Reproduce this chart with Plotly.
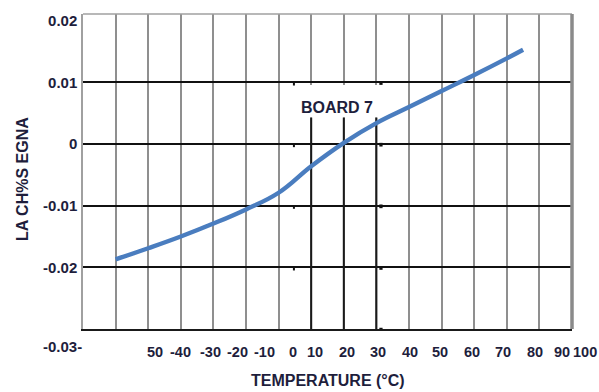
import plotly.graph_objects as go

# Angle change vs. temperature for board 7
temperature = [-50, -40, -30, -20, -10, 0, 10, 20, 30, 40, 50, 60, 70, 75]
angle_change = [-0.0187, -0.0169, -0.0150, -0.0129, -0.0106, -0.0079, -0.0036,
                0.0002, 0.0034, 0.0060, 0.0086, 0.0112, 0.0139, 0.0153]

# Axis labels
x_tick_text = ["50", "-40", "-30", "-20", "-10", "0", "10", "20", "30", "40",
               "50", "60", "70", "80", "90", "100"]
x_tick_pos = [-37.9, -30.2, -21.0, -12.5, -4.2, 4.4, 11.2, 21.0, 30.5, 40.3,
              49.5, 59.3, 68.8, 78.7, 86.8, 94.1]
y_tick_vals = [-0.02, -0.01, 0, 0.01, 0.02]
y_tick_text = ["-0.02", "-0.01", "0", "0.01", "0.02"]
y_bottom_text = "-0.03-"
x_range = [-60, 90]
x_grid = list(range(-60, 91, 10))
y_grid = [-0.02, -0.01, 0, 0.01]
series_label = "BOARD 7"

TXT = "#1e1e3c"
FONT = "Liberation Sans, Arial, sans-serif"

fig = go.Figure()
fig.add_trace(go.Scatter(
    x=temperature, y=angle_change, mode="lines",
    line=dict(color="#4a7dbf", width=4.4, shape="spline", smoothing=1.2),
    hoverinfo="skip", showlegend=False,
))

shapes = []
# white box behind the series label
shapes.append(dict(type="rect", xref="x", yref="y", x0=5.2, x1=31.8, y0=0.0043, y1=0.0096,
                   fillcolor="white", line=dict(width=0), layer="between"))
# darker verticals at 10, 20, 30 below the label
for xv in (10, 20, 30):
    shapes.append(dict(type="line", xref="x", yref="y", x0=xv, x1=xv, y0=0.0043, y1=-0.03,
                       line=dict(color="#1a1a1a", width=2), layer="between"))
# small tick marks on the horizontal rules
for yv in y_grid + [-0.03]:
    shapes.append(dict(type="line", xref="x", yref="y", x0=4.7, x1=4.7, y0=yv,
                       y1=yv - 0.0005, line=dict(color="#111", width=2), layer="above"))
    shapes.append(dict(type="rect", xref="x", yref="y", x0=30.9, x1=31.9, y0=yv + 0.0002,
                       y1=yv - 0.0004, fillcolor="#111", line=dict(width=0), layer="above"))
# frame: top and right
shapes.append(dict(type="line", xref="paper", yref="paper", x0=0, x1=1, y0=1, y1=1,
                   line=dict(color="#a0a0a0", width=1.5)))
shapes.append(dict(type="line", xref="paper", yref="paper", x0=1, x1=1, y0=0, y1=1,
                   line=dict(color="#8a8a8a", width=3.5)))

annotations = []
span = x_range[1] - x_range[0]
for txt, pos in zip(x_tick_text, x_tick_pos):
    annotations.append(dict(x=(pos - x_range[0]) / span, y=0, xref="paper", yref="paper",
                            text=txt, showarrow=False,
                            xanchor="center", yanchor="middle", yshift=-23,
                            font=dict(family=FONT, size=14.5, color=TXT, weight="bold")))
annotations.append(dict(x=0, y=0, xref="paper", yref="paper", text=y_bottom_text,
                        showarrow=False, xanchor="right", yanchor="middle", yshift=-17,
                        xshift=1, font=dict(family=FONT, size=15, color=TXT, weight="bold")))
annotations.append(dict(x=0.5, y=0, xref="paper", yref="paper", text="TEMPERATURE (°C)",
                        showarrow=False, xanchor="center", yanchor="middle", yshift=-51,
                        font=dict(family=FONT, size=16, color=TXT, weight="bold")))
annotations.append(dict(x=0, y=0.476, xref="paper", yref="paper", text="LA CH%S EGNA",
                        textangle=-90, showarrow=False, xanchor="center", yanchor="middle",
                        xshift=-61, font=dict(family=FONT, size=16, color=TXT, weight="bold")))
annotations.append(dict(x=18, y=0.006, xref="x", yref="y", text=series_label,
                        showarrow=False, xanchor="center", yanchor="middle",
                        font=dict(family=FONT, size=16, color=TXT, weight="bold")))

fig.update_layout(
    width=599, height=392,
    margin=dict(l=83, r=27, t=12, b=63),
    paper_bgcolor="white", plot_bgcolor="white",
    xaxis=dict(range=x_range, showticklabels=False, ticks="", showgrid=False,
               zeroline=False, showline=True, linecolor="#1a1a1a", linewidth=2,
               tickvals=x_grid,
               minor=dict(tickvals=x_grid, showgrid=True, gridcolor="#8f8f8f", gridwidth=1.8)),
    yaxis=dict(range=[-0.03, 0.0211], tickvals=y_tick_vals, ticktext=y_tick_text,
               showgrid=False, zeroline=False, ticks="", showline=True,
               linecolor="#a0a0a0", linewidth=1.5, ticklabelstandoff=1,
               tickfont=dict(family=FONT, size=15, color=TXT, weight="bold"),
               minor=dict(tickvals=y_grid, showgrid=True, gridcolor="#111111", gridwidth=1.8)),
    shapes=shapes, annotations=annotations,
)

fig.write_html("out.html")
